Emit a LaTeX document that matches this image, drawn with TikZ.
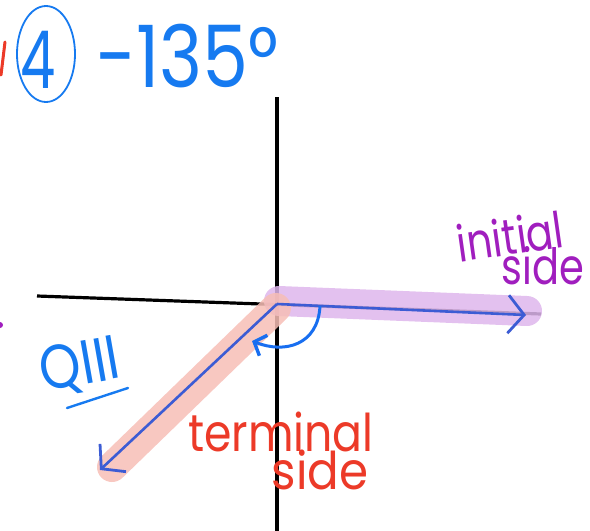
\documentclass[tikz,border=0pt]{standalone}
\usepackage{fontspec}
\setmainfont{Poppins}
\usetikzlibrary{arrows.meta}

\definecolor{hlpurple}{RGB}{222,182,236}
\definecolor{hlpink}{RGB}{247,190,182}
\definecolor{sideblue}{RGB}{60,92,212}
\definecolor{arcblue}{RGB}{24,110,240}
\definecolor{penblue}{RGB}{22,122,240}
\definecolor{penred}{RGB}{236,58,40}
\definecolor{penpurple}{RGB}{160,30,190}

\tikzset{
  axis/.style={line width=3.2pt, black},
  marker/.style={line width=30pt, line cap=round, opacity=0.85},
  ray/.style={line width=2.6pt, sideblue, -{Straight Barb[length=16pt,width=38pt,line width=2.8pt]}},
  pen/.style={inner sep=0pt, font=\fontsize{#1}{#1}\selectfont},
}

\begin{document}
\begin{tikzpicture}[x=1pt,y=-1pt]
\useasboundingbox (0,0) rectangle (590,531);

% axes
\coordinate (O) at (277,304);
\coordinate (top) at (277,97);
\coordinate (bot) at (277,531);
\coordinate (west) at (37,296);
\coordinate (east) at (541,314);
\draw[axis] (top) -- (bot);
\draw[axis] (west) -- (east);

% highlighter marks
\coordinate (pA) at (279,301);
\coordinate (pB) at (527,311);
\coordinate (rA) at (276,308);
\coordinate (rB) at (112,467);
\draw[marker, hlpurple] (pA) -- (pB);
\draw[marker, hlpink] (rA) -- (rB);

% initial and terminal side
\coordinate (init) at (526,315);
\coordinate (term) at (100,470);
\draw[ray] (O) -- (init);
\draw[ray] (O) -- (term);

% rotation arc
\coordinate (arcA) at (320,306);
\coordinate (arcB) at (252,341);
\draw[line width=3pt, arcblue, -{Straight Barb[length=10pt,width=22pt,line width=3.4pt]}]
  (arcA) .. controls (318,345) and (285,354) .. (arcB);

% heading
\node[pen=80, penblue, xscale=0.7] (num) at (38,60) {4};
\draw[line width=1.8pt, penblue] (46,54) ellipse (29pt and 48pt);
\node[pen=86, penblue, xscale=0.85, anchor=west] (angle) at (96,56) {-135°};
\draw[line width=3pt, penred, line cap=round] (5,42) -- (1,75);
\fill[penpurple] (0,325) circle (3pt);

% labels
\node[pen=62, penblue, rotate=10, xscale=0.85] (quad) at (80,367) {QIII};
\draw[line width=2.4pt, penblue, line cap=round] (67,408) -- (128,388);
\node[pen=52, penred, xscale=0.85] (termtxt) at (281,432) {terminal};
\node[pen=52, penred, xscale=0.9] (sidetxtA) at (320,470) {side};
\node[pen=50, penpurple, rotate=8, xscale=0.8] (inittxt) at (510,236) {initial};
\node[pen=50, penpurple, xscale=0.8] (sidetxtB) at (543,266) {side};
\end{tikzpicture}
\end{document}
